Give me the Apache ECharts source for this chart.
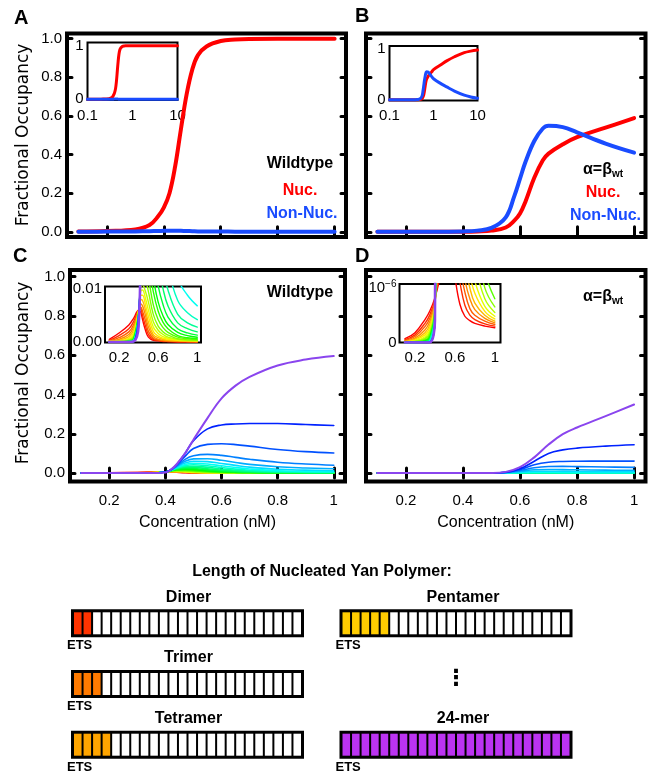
<!DOCTYPE html>
<html>
<head>
<meta charset="utf-8">
<script src="https://cdn.jsdelivr.net/npm/echarts@6/dist/echarts.min.js"></script>
<style>
html, body { margin: 0; padding: 0; background: #fff; }
#chart { width: 650px; height: 775px; }
</style>
</head>
<body>
<div id="chart"></div>
<script>
// ---------- panel A : wildtype ----------
var aX = [0.1,0.2,0.3,0.35,0.38,0.4,0.42,0.44,0.46,0.48,0.5,0.52,0.55,0.6,0.65,0.7,0.8,0.9,1,1.5,2,3,5,7,10];
var aNuc = [0.001,0.004,0.012,0.035,0.08,0.125,0.2,0.34,0.53,0.71,0.84,0.915,0.96,0.988,0.996,0.999,1,1,1,1,1,1,1,1,1];
var aNonNuc = [0.0005,0.001,0.002,0.003,0.004,0.005,0.006,0.006,0.005,0.004,0.003,0.002,0.0015,0.001,0.0008,0.0006,0.0004,0.0003,0.0002,0.0001,0.0001,0,0,0,0];

// ---------- panel B : alpha = beta_wt ----------
var bX = [0.1,0.2,0.3,0.4,0.45,0.5,0.55,0.58,0.6,0.62,0.65,0.68,0.7,0.75,0.8,0.9,1,1.5,2,3,5,7,10];
var bNuc = [0,0,0,0.0005,0.002,0.006,0.022,0.058,0.095,0.16,0.28,0.37,0.405,0.453,0.49,0.539,0.589,0.69,0.76,0.84,0.92,0.95,0.97];
var bNonNuc = [0,0,0,0.002,0.006,0.02,0.075,0.185,0.275,0.365,0.47,0.535,0.549,0.542,0.515,0.457,0.41,0.31,0.25,0.17,0.09,0.055,0.03];

// ---------- panel C : wildtype, one curve per polymer length ----------
var cX = [0.1,0.2,0.3,0.35,0.4,0.42,0.44,0.47,0.5,0.55,0.6,0.65,0.7,0.8,0.9,1];
var c2  = [0.0005,0.0017,0.0032,0.0045,0.006,0.0057,0.0042,0.0022,0.0009,0.0003,0.0002,0.0001,0.0001,0,0,0];
var c3  = [0.0003,0.0012,0.0025,0.0039,0.006,0.0062,0.005,0.003,0.0014,0.0005,0.0003,0.0002,0.0001,0.0001,0.0001,0];
var c4  = [0.0002,0.0008,0.0019,0.0033,0.006,0.0066,0.0058,0.004,0.002,0.0007,0.0004,0.0002,0.0002,0.0001,0.0001,0.0001];
var c5  = [0.0002,0.0005,0.0014,0.0028,0.006,0.0072,0.0068,0.005,0.0028,0.001,0.0005,0.0003,0.0002,0.0002,0.0001,0.0001];
var c6  = [0.0001,0.0003,0.001,0.0023,0.006,0.008,0.0078,0.006,0.0037,0.0014,0.0008,0.0005,0.0003,0.0002,0.0002,0.0001];
var c7  = [0.0001,0.0002,0.0007,0.0018,0.0059,0.0088,0.0088,0.007,0.0048,0.002,0.0011,0.0007,0.0005,0.0003,0.0002,0.0002];
var c8  = [0.0001,0.0001,0.0005,0.0014,0.0058,0.0095,0.0098,0.0082,0.006,0.0028,0.0016,0.001,0.0007,0.0004,0.0003,0.0002];
var c9  = [0,0.0001,0.0004,0.0011,0.0057,0.0102,0.0107,0.0095,0.0075,0.0038,0.0022,0.0014,0.0009,0.0005,0.0003,0.00025];
var c10 = [0,0.0001,0.0003,0.0009,0.0056,0.011,0.012,0.0115,0.0095,0.0052,0.003,0.0019,0.0013,0.0006,0.0004,0.0003];
var c11 = [0,0,0.0002,0.0007,0.0055,0.011,0.014,0.014,0.012,0.007,0.0042,0.0027,0.0018,0.0009,0.0006,0.00045];
var c12 = [0,0,0.0002,0.0006,0.0054,0.012,0.016,0.017,0.015,0.0095,0.0058,0.0037,0.0025,0.0012,0.0008,0.0006];
var c13 = [0,0,0.0001,0.0005,0.0053,0.012,0.018,0.02,0.018,0.012,0.0075,0.0049,0.0033,0.0018,0.0012,0.0009];
var c14 = [0,0,0.0001,0.0004,0.0052,0.013,0.02,0.024,0.023,0.016,0.0105,0.007,0.0047,0.0025,0.0017,0.0013];
var c15 = [0,0,0.0001,0.0003,0.005,0.013,0.022,0.028,0.029,0.022,0.015,0.01,0.0068,0.0036,0.0025,0.0019];
var c16 = [0,0,0.0001,0.0003,0.005,0.014,0.024,0.033,0.035,0.029,0.021,0.014,0.0098,0.0052,0.0036,0.0028];
var c17 = [0,0,0,0.0002,0.005,0.014,0.026,0.038,0.042,0.037,0.028,0.02,0.014,0.0078,0.0055,0.0042];
var c18 = [0,0,0,0.0002,0.005,0.015,0.028,0.044,0.05,0.046,0.037,0.028,0.021,0.012,0.0088,0.0068];
var c19 = [0,0,0,0.0001,0.005,0.015,0.03,0.051,0.06,0.058,0.049,0.039,0.03,0.019,0.015,0.012];
var c20 = [0,0,0,0.0001,0.005,0.016,0.033,0.06,0.072,0.073,0.065,0.054,0.044,0.032,0.026,0.022];
var c21 = [0,0,0,0.0001,0.005,0.016,0.036,0.07,0.088,0.095,0.09,0.08,0.07,0.055,0.046,0.04];
var c22 = [0,0,0,0.0001,0.005,0.017,0.04,0.085,0.125,0.146,0.149,0.145,0.137,0.12,0.109,0.102];
var c23 = [0,0,0,0.0001,0.004,0.018,0.044,0.1,0.165,0.225,0.245,0.25,0.252,0.252,0.247,0.242];
var c24 = [0,0,0,0.0001,0.003,0.018,0.045,0.1,0.17,0.28,0.38,0.445,0.49,0.548,0.578,0.596];

// ---------- panel D : alpha = beta_wt, one curve per polymer length ----------
var dX = [0.1,0.2,0.3,0.35,0.4,0.45,0.5,0.55,0.6,0.65,0.7,0.75,0.8,0.9,1];
var d2  = [7e-8,1.8e-7,4.2e-7,5.8e-7,8.2e-7,1.2e-6,2e-6,1.8e-6,1.2e-6,7e-7,4.8e-7,4e-7,3.5e-7,3e-7,2.7e-7];
var d3  = [5e-8,1.4e-7,3.5e-7,5.1e-7,7.9e-7,1.4e-6,2.5e-6,2.3e-6,1.6e-6,1.1e-6,6.8e-7,5e-7,4.2e-7,3.4e-7,3e-7];
var d4  = [3.5e-8,1.1e-7,2.9e-7,4.5e-7,7.6e-7,1.7e-6,3.1e-6,3e-6,2.1e-6,1.4e-6,9.2e-7,6.2e-7,5e-7,3.9e-7,3.3e-7];
var d5  = [2.5e-8,8e-8,2.3e-7,3.9e-7,7.3e-7,2e-6,3.8e-6,3.9e-6,2.8e-6,1.8e-6,1.15e-6,8e-7,6e-7,4.4e-7,3.6e-7];
var d6  = [1.8e-8,6e-8,1.8e-7,3.3e-7,7e-7,2.4e-6,4.7e-6,5e-6,3.6e-6,2.3e-6,1.45e-6,1e-6,7.2e-7,5e-7,3.9e-7];
var d7  = [1.2e-8,4.5e-8,1.4e-7,2.8e-7,6.8e-7,2.8e-6,5.8e-6,6.5e-6,4.8e-6,3e-6,1.85e-6,1.25e-6,9e-7,5.7e-7,4.3e-7];
var d8  = [8e-9,3.3e-8,1.05e-7,2.3e-7,6.6e-7,3.3e-6,7.2e-6,8.6e-6,6.5e-6,4e-6,2.4e-6,1.6e-6,1.12e-6,6.6e-7,4.8e-7];
var d9  = [5e-9,2.4e-8,8e-8,1.9e-7,6.4e-7,3.9e-6,9e-6,1.15e-5,9e-6,5.5e-6,3.2e-6,2.1e-6,1.45e-6,8e-7,5.5e-7];
var d10 = [3e-9,1.7e-8,6e-8,1.6e-7,6.2e-7,4.6e-6,1.1e-5,1.55e-5,1.25e-5,7.5e-6,4.4e-6,2.8e-6,1.9e-6,1e-6,6.5e-7];
var d11 = [2e-9,1.2e-8,4.5e-8,1.3e-7,6e-7,5.4e-6,1.35e-5,2.1e-5,1.7e-5,1e-5,6e-6,3.8e-6,2.6e-6,1.3e-6,8e-7];
var d12 = [1e-9,8e-9,3.4e-8,1.05e-7,5.8e-7,6.2e-6,2.3e-5,3e-5,2.2e-5,1.2e-5,6.5e-6,4e-6,2.8e-6,1.6e-6,1.15e-6];
var d13 = [1e-9,5e-9,2.5e-8,8.5e-8,5.6e-7,7e-6,3.3e-5,6.3e-5,5.5e-5,3.4e-5,2.1e-5,1.5e-5,1.15e-5,9.2e-6,8e-6];
var d14 = [0,3e-9,1.8e-8,6.8e-8,5.4e-7,7.8e-6,4.6e-5,1.25e-4,1.45e-4,1.05e-4,7e-5,5.2e-5,4.1e-5,3.4e-5,3e-5];
var d15 = [0,2e-9,1.3e-8,5.4e-8,5.2e-7,8.6e-6,6.3e-5,2.4e-4,3.5e-4,3e-4,2.2e-4,1.7e-4,1.35e-4,1.1e-4,1e-4];
var d16 = [0,1e-9,9e-9,4.2e-8,5e-7,9.5e-6,8.5e-5,4.5e-4,8e-4,8e-4,6.3e-4,5e-4,4.1e-4,3.4e-4,3e-4];
var d17 = [0,0,6e-9,3.2e-8,4.8e-7,1.05e-5,1.15e-4,8e-4,0.0017,0.002,0.0017,0.0014,0.0012,0.001,0.0009];
var d18 = [0,0,4e-9,2.4e-8,4.6e-7,1.15e-5,1.5e-4,0.0013,0.0033,0.0045,0.0041,0.0036,0.0032,0.0028,0.0025];
var d19 = [0,0,2e-9,1.7e-8,4.4e-7,1.3e-5,1.9e-4,0.0019,0.0058,0.0095,0.0095,0.0088,0.008,0.007,0.0063];
var d20 = [0,0,1e-9,1.1e-8,4.3e-7,1.5e-5,2.2e-4,0.0025,0.009,0.0165,0.018,0.0175,0.0165,0.015,0.014];
var d21 = [0,0,0,7e-9,4.2e-7,1.8e-5,2.5e-4,0.003,0.013,0.027,0.033,0.034,0.033,0.031,0.029];
var d22 = [0,0,0,4e-9,4.1e-7,2.2e-5,2.8e-4,0.0035,0.018,0.042,0.055,0.059,0.06,0.061,0.061];
var d23 = [0,0,0,2e-9,4e-7,2.6e-5,3.1e-4,0.0042,0.022,0.06,0.1,0.118,0.127,0.137,0.144];
var d24 = [0,0,0,1e-9,4e-7,3e-5,3.4e-4,0.006,0.03,0.08,0.145,0.198,0.232,0.29,0.349];

var polymerLengths = [2,3,4,5,6,7,8,9,10,11,12,13,14,15,16,17,18,19,20,21,22,23,24];
var cCurves = [c2,c3,c4,c5,c6,c7,c8,c9,c10,c11,c12,c13,c14,c15,c16,c17,c18,c19,c20,c21,c22,c23,c24];
var dCurves = [d2,d3,d4,d5,d6,d7,d8,d9,d10,d11,d12,d13,d14,d15,d16,d17,d18,d19,d20,d21,d22,d23,d24];

// tick values
var mainXTicks = [0.2,0.4,0.6,0.8,1];
var mainYTicks = [0,0.2,0.4,0.6,0.8,1];
var insetLogTicks = [0.1,1,10];
var insetLinTicks = [0.2,0.6,1];
var insetABYTicks = [0,1];
var insetCYTicks = [0,0.01];
var insetDYTicks = [0,1e-6];

// ---------- schematic of nucleated polymers ----------
var slotCount = 24;
var polyNames = ['Dimer','Trimer','Tetramer','Pentamer','24-mer'];
var polyFilled = [2,3,4,5,24];
var polyColumn = [0,0,0,1,1];
var polyRow = [0,1,2,0,2];
var polyColors = ['#ff3300','#ff7a00','#ffa500','#ffcc00','#bb33f2'];

var RED = '#ff0000', BLUE = '#1a4cff';
var TICK_FONT = '"Liberation Sans", Arial, sans-serif';
var BOLD = 'bold 16px "Liberation Sans", Arial, sans-serif';

// axis indices (x and y lists are built in the same order)
var AX_A = 0, AX_B = 2, AX_C = 4, AX_D = 6, AX_AI = 8, AX_BI = 9, AX_CI = 10, AX_DI = 11, AX_POLY = 12;

function curveColor(n) {
    if (n === 24) return '#8a45ee';
    var h = (n - 2) / 21 * 232;
    return 'hsl(' + h.toFixed(0) + ',100%,50%)';
}

function pairs(xs, ys, maxX) {
    var out = [];
    for (var i = 0; i < xs.length; i++) {
        if (maxX == null || xs[i] <= maxX + 1e-9) out.push([xs[i], ys[i]]);
    }
    return out;
}

function fmtY(v) { return v.toFixed(1); }
function fmtX(v) { return String(Math.round(v * 10) / 10); }

// frame axis with inward ticks; labels optional
function frameAxis(gridIndex, position, min, max, ticks, label) {
    return {
        type: 'value', gridIndex: gridIndex, position: position, min: min, max: max,
        axisLine: {show: false}, splitLine: {show: false},
        axisTick: {show: true, inside: true, length: 5, customValues: ticks,
            lineStyle: {color: '#000', width: 3, cap: 'round'}},
        axisLabel: label ? Object.assign({show: true, customValues: ticks, color: '#000',
            fontFamily: TICK_FONT, fontSize: 15}, label) : {show: false}
    };
}

function insetAxis(gridIndex, type, min, max, ticks, label) {
    return {
        type: type, gridIndex: gridIndex, min: min, max: max, logBase: 10,
        axisLine: {show: false}, splitLine: {show: false},
        axisTick: {show: false},
        axisLabel: Object.assign({show: true, customValues: ticks, color: '#000',
            fontFamily: TICK_FONT, fontSize: 15}, label)
    };
}

var grids = [
    {left: 67, top: 33.5, width: 279, height: 203.5},      // A
    {left: 366, top: 33.5, width: 279.5, height: 203.5},   // B
    {left: 70, top: 270, width: 275, height: 211.5},       // C
    {left: 366, top: 270, width: 279.5, height: 211.5},    // D
    {left: 87.5, top: 42.5, width: 90, height: 57.5},      // A inset
    {left: 389.5, top: 46, width: 88, height: 54.5},       // B inset
    {left: 105, top: 286.5, width: 96, height: 56},        // C inset
    {left: 399.5, top: 284, width: 101, height: 58.5},     // D inset
    {left: 73, top: 609.3, width: 229, height: 182.1},     // polymers, left column
    {left: 341.5, top: 609.3, width: 229, height: 182.1}   // polymers, right column
].map(function (g, i) {
    var frame = i < 4 ? 4 : (i < 8 ? 2 : 0);
    return Object.assign({show: i < 8, borderColor: '#000', borderWidth: frame,
        backgroundColor: i < 8 ? '#fff' : 'transparent', outerBoundsMode: 'none', containLabel: false}, g);
});

var xName = {name: 'Concentration (nM)', nameLocation: 'middle', nameGap: 33,
    nameTextStyle: {fontFamily: TICK_FONT, fontSize: 16, color: '#000'}};

function logFmt(v) { return String(+v.toPrecision(2)); }

var xAxes = [
    frameAxis(0, 'bottom', 0.06, 1.04, mainXTicks, null),
    frameAxis(0, 'top', 0.06, 1.04, mainXTicks, null),
    frameAxis(1, 'bottom', 0.06, 1.04, mainXTicks, null),
    frameAxis(1, 'top', 0.06, 1.04, mainXTicks, null),
    Object.assign(frameAxis(2, 'bottom', 0.06, 1.04, mainXTicks, {formatter: fmtX, margin: 12}), xName),
    frameAxis(2, 'top', 0.06, 1.04, mainXTicks, null),
    Object.assign(frameAxis(3, 'bottom', 0.06, 1.04, mainXTicks, {formatter: fmtX, margin: 12}), xName),
    frameAxis(3, 'top', 0.06, 1.04, mainXTicks, null),
    insetAxis(4, 'log', 0.1, 10, insetLogTicks, {margin: 8, formatter: logFmt}),
    insetAxis(5, 'log', 0.1, 10, insetLogTicks, {margin: 8, formatter: logFmt}),
    insetAxis(6, 'value', 0.056, 1.038, insetLinTicks, {margin: 8, formatter: fmtX}),
    insetAxis(7, 'value', 0.045, 1.057, insetLinTicks, {margin: 8, formatter: fmtX}),
    {type: 'value', gridIndex: 8, min: 0, max: slotCount, show: false},
    {type: 'value', gridIndex: 9, min: 0, max: slotCount, show: false}
];

var yAxes = [
    frameAxis(0, 'left', -0.027, 1.027, mainYTicks, {formatter: fmtY, margin: 5}),
    frameAxis(0, 'right', -0.027, 1.027, mainYTicks, null),
    frameAxis(1, 'left', -0.027, 1.027, mainYTicks, null),
    frameAxis(1, 'right', -0.027, 1.027, mainYTicks, null),
    frameAxis(2, 'left', -0.043, 1.034, mainYTicks, {formatter: fmtY, margin: 5}),
    frameAxis(2, 'right', -0.043, 1.034, mainYTicks, null),
    frameAxis(3, 'left', -0.043, 1.034, mainYTicks, null),
    frameAxis(3, 'right', -0.043, 1.034, mainYTicks, null),
    insetAxis(4, 'value', -0.012, 1.06, insetABYTicks, {margin: 4, formatter: function (v) { return String(v); }}),
    insetAxis(5, 'value', -0.015, 1.05, insetABYTicks, {margin: 4, formatter: function (v) { return String(v); }}),
    insetAxis(6, 'value', -0.0001, 0.01045, insetCYTicks, {margin: 3, formatter: function (v) { return v.toFixed(2); }}),
    insetAxis(7, 'value', 0, 1.07e-6, insetDYTicks, {margin: 3,
        formatter: function (v) { return v === 0 ? '0' : '{b|10}{s|−6}'; },
        rich: {b: {fontSize: 15, fontFamily: TICK_FONT, color: '#000'},
               s: {fontSize: 10, fontFamily: TICK_FONT, color: '#000', padding: [0, 0, 8, 0]}}}),
    {type: 'value', gridIndex: 8, min: 0, max: 3, inverse: true, show: false},
    {type: 'value', gridIndex: 9, min: 0, max: 3, inverse: true, show: false}
];

function lineSeries(axis, data, color, width, z) {
    return {
        type: 'line', xAxisIndex: axis, yAxisIndex: axis, data: data,
        showSymbol: false, symbol: 'none', smooth: 0.4, clip: true, silent: true, z: z || 2,
        lineStyle: {color: color, width: width, cap: 'round', join: 'round'}
    };
}

var series = [
    lineSeries(AX_A, pairs(aX, aNuc, 1), RED, 4),
    lineSeries(AX_A, pairs(aX, aNonNuc, 1), BLUE, 4),
    lineSeries(AX_B, pairs(bX, bNuc, 1), RED, 4),
    lineSeries(AX_B, pairs(bX, bNonNuc, 1), BLUE, 4),
    lineSeries(AX_AI, pairs(aX, aNuc), RED, 3, 5),
    lineSeries(AX_AI, pairs(aX, aNonNuc), BLUE, 3, 5),
    lineSeries(AX_BI, pairs(bX, bNuc), RED, 3, 5),
    lineSeries(AX_BI, pairs(bX, bNonNuc), BLUE, 3, 5)
];

polymerLengths.forEach(function (n, i) {
    var col = curveColor(n);
    var big = n === 24;
    series.push(lineSeries(AX_C, pairs(cX, cCurves[i]), col, big ? 2 : 1.6));
    series.push(lineSeries(AX_D, pairs(dX, dCurves[i]), col, big ? 2 : 1.6));
    series.push(lineSeries(AX_CI, pairs(cX, cCurves[i]), col, big ? 2.6 : 1.4, 5));
    series.push(lineSeries(AX_DI, pairs(dX, dCurves[i]), col, big ? 2.6 : 1.4, 5));
});

// polymer schematic rendered per item: [filled, row, polymer index]
var BOX_H = 28;
function renderPolymer(params, api) {
    var filled = api.value(0), row = api.value(1), k = api.value(2);
    var p0 = api.coord([0, row]);
    var p1 = api.coord([slotCount, row]);
    var top = p0[1];
    var children = [{type: 'rect', shape: {x: p0[0] - 2, y: top, width: p1[0] - p0[0] + 4, height: BOX_H},
        style: {fill: '#000'}}];
    for (var i = 0; i < slotCount; i++) {
        var a = api.coord([i, row])[0], b = api.coord([i + 1, row])[0];
        children.push({type: 'rect', shape: {x: a + 1, y: top + 3, width: b - a - 2, height: BOX_H - 6},
            style: {fill: i < filled ? polyColors[k] : '#fff'}});
    }
    var nudge = polyColumn[k] === 0 ? 1 : 7;
    children.push({type: 'text', style: {text: polyNames[k], x: (p0[0] + p1[0]) / 2 + nudge, y: top - 12,
        align: 'center', verticalAlign: 'middle', font: BOLD, fill: '#000'}});
    children.push({type: 'text', style: {text: 'ETS', x: p0[0] - 6, y: top + BOX_H + 2,
        align: 'left', verticalAlign: 'top', font: 'bold 13px "Liberation Sans", Arial, sans-serif', fill: '#000'}});
    return {type: 'group', children: children};
}

[0, 1].forEach(function (column) {
    var items = [];
    for (var k = 0; k < polyNames.length; k++) {
        if (polyColumn[k] === column) items.push([polyFilled[k], polyRow[k], k]);
    }
    series.push({type: 'custom', xAxisIndex: AX_POLY + column, yAxisIndex: AX_POLY + column,
        renderItem: renderPolymer, data: items, silent: true, clip: false, z: 10,
        encode: {x: 0, y: 1}});
});

function txt(text, x, y, opts) {
    return {type: 'text', x: x, y: y, z: 100, silent: true,
        style: Object.assign({text: text, font: BOLD, fill: '#000', align: 'center', verticalAlign: 'middle'}, opts || {})};
}

var sub = {rich: {m: {font: BOLD, fill: '#000'}, s: {font: 'bold 10px "Liberation Sans", Arial, sans-serif', fill: '#000', padding: [8, 0, 0, 0]}}};
var LETTER = {align: 'left', font: 'bold 20px "Liberation Sans", Arial, sans-serif'};
var YNAME = {font: '17px "DejaVu Sans", sans-serif'};

var graphics = [
    txt('A', 14, 18, LETTER),
    txt('B', 355, 16, LETTER),
    txt('C', 13, 256, LETTER),
    txt('D', 355, 256, LETTER),
    Object.assign(txt('Fractional Occupancy', 24, 135, YNAME), {rotation: Math.PI / 2}),
    Object.assign(txt('Fractional Occupancy', 24, 373, YNAME), {rotation: Math.PI / 2}),
    txt('Wildtype', 300, 164),
    txt('Nuc.', 300, 191, {fill: RED}),
    txt('Non-Nuc.', 302, 213.5, {fill: BLUE}),
    txt('{m|α=β}{s|wt}', 603, 170, sub),
    txt('Nuc.', 603, 193, {fill: RED}),
    txt('Non-Nuc.', 605.5, 215.5, {fill: BLUE}),
    txt('Wildtype', 300, 293),
    txt('{m|α=β}{s|wt}', 603, 297, sub),
    txt('Length of Nucleated Yan Polymer:', 322, 572),
    txt('⋮', 456, 679, {font: 'bold 22px "DejaVu Sans", sans-serif'})
];

var chart = echarts.init(document.getElementById('chart'), null, {renderer: 'canvas'});
chart.setOption({
    animation: false,
    backgroundColor: '#fff',
    grid: grids,
    xAxis: xAxes,
    yAxis: yAxes,
    series: series,
    graphic: graphics
});
</script>
</body>
</html>
